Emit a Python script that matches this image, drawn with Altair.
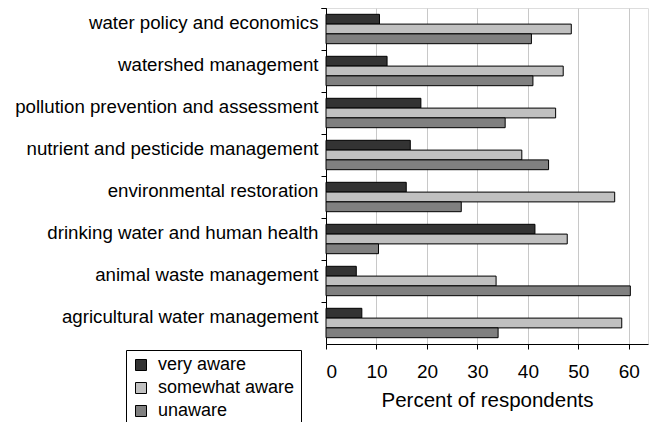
import altair as alt
import pandas as pd

categories = [
    "water policy and economics",
    "watershed management",
    "pollution prevention and assessment",
    "nutrient and pesticide management",
    "environmental restoration",
    "drinking water and human health",
    "animal waste management",
    "agricultural water management",
]
series = ["very aware", "somewhat aware", "unaware"]
very_aware = [10.6, 12.1, 18.8, 16.7, 15.9, 41.4, 6.0, 7.1]
somewhat_aware = [48.6, 47.0, 45.5, 38.8, 57.2, 47.8, 33.7, 58.6]
unaware = [40.7, 41.0, 35.5, 44.1, 26.8, 10.4, 60.3, 34.1]
colors = ["#333333", "#c0c0c0", "#808080"]
x_ticks = [0, 10, 20, 30, 40, 50, 60]

rows = []
for s, vals in zip(series, [very_aware, somewhat_aware, unaware]):
    for c, v in zip(categories, vals):
        rows.append({"category": c, "series": s, "value": v})
df = pd.DataFrame(rows)

FONT = "Liberation Sans"

chart = alt.Chart(df).mark_bar(stroke="black", strokeWidth=1).encode(
    x=alt.X(
        "value:Q",
        scale=alt.Scale(domain=[0, 63.8], nice=False),
        axis=alt.Axis(
            title="Percent of respondents",
            values=x_ticks,
            labelFontSize=19,
            labelFont=FONT,
            labelColor="black",
            labelPadding=13,
            titleFontSize=20.5,
            titleFont=FONT,
            titleFontWeight="normal",
            titleColor="black",
            titlePadding=9,
            tickSize=5,
            tickColor="black",
            domainColor="black",
            gridColor="#c8c8c8",
            grid=True,
        ),
    ),
    y=alt.Y(
        "category:N",
        sort=categories,
        scale=alt.Scale(paddingInner=0.3, paddingOuter=0.15),
        axis=alt.Axis(
            title=None,
            labelFontSize=18.7,
            labelFont=FONT,
            labelColor="black",
            labelPadding=3,
            labelLimit=400,
            tickSize=5,
            tickColor="black",
            domainColor="black",
            grid=False,
            bandPosition=0,
            tickExtra=True,
            tickOffset=-6.3,
        ),
    ),
    yOffset=alt.YOffset("series:N", sort=series, scale=alt.Scale(paddingInner=0, paddingOuter=0)),
    color=alt.Color(
        "series:N",
        sort=series,
        scale=alt.Scale(domain=series, range=colors),
        legend=alt.Legend(
            title=None,
            orient="none",
            legendX=-200,
            legendY=342,
            symbolType="square",
            symbolSize=121,
            symbolStrokeColor="black",
            symbolStrokeWidth=1,
            labelFontSize=18,
            labelFont=FONT,
            labelColor="black",
            labelOffset=8,
            rowPadding=5,
            padding=6,
            strokeColor="black",
            fillColor="white",
        ),
    ),
).properties(
    width=322,
    height=336,
    autosize=alt.AutoSizeParams(type="none"),
    padding={"left": 318, "top": 0, "right": 1, "bottom": 78},
).configure_view(
    stroke="black", strokeWidth=1
).configure(background="white")

chart.save("out.html", embed_options={"renderer": "svg", "actions": False})
